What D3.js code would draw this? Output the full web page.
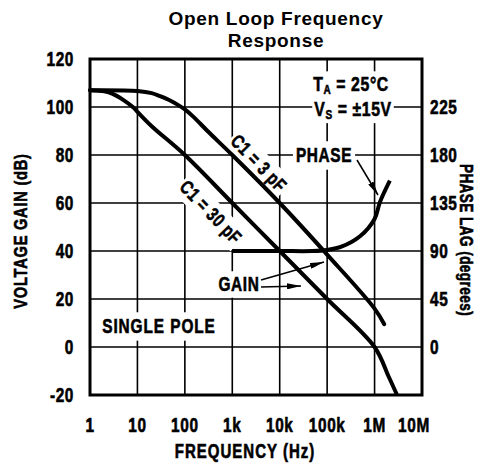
<!DOCTYPE html>
<html>
<head>
<meta charset="utf-8">
<script src="https://cdn.jsdelivr.net/npm/d3@7"></script>
<style>
  body { margin: 0; background: #fff; }
  text { fill: #000; }
</style>
</head>
<body>
<script>
const width = 488;
const height = 463;

// 数据
const decades = [1, 10, 100, 1e3, 1e4, 1e5, 1e6, 1e7];
const decadeLabels = ["1", "10", "100", "1k", "10k", "100k", "1M", "10M"];
const gainTicks = [-20, 0, 20, 40, 60, 80, 100, 120];
const phaseTicks = [0, 45, 90, 135, 180, 225];

// C1 = 3 pF
const freq3pF = [1, 10, 20, 30, 50, 70, 100, 150, 300, 1e3, 1e4, 1e5, 1e6, 1.6e6];
const gain3pF = [107, 106.7, 105.8, 104.5, 102.6, 101, 99, 96, 90, 80, 60, 38.5, 16, 9.5];

// C1 = 30 pF
const freq30pF = [1, 2, 3, 5, 8, 10, 20, 100, 1e3, 1e4, 1e5, 1e6, 2e6, 2.9e6];
const gain30pF = [107, 106.5, 105.5, 103, 100, 98, 92, 80, 60, 40, 20, 0, -12.5, -19.5];

// 相位
const freqPhase = [1e3, 1e4, 5e4, 1e5, 2e5, 5e5, 1e6, 1.3e6, 2.1e6];
const phaseLag = [90, 90, 90, 91, 94, 104, 120, 136, 156];

const FONT = "Liberation Sans, Arial, sans-serif";
const SX = 0.77; // 横向压缩，模拟窄体字

let svg = d3.select("body").append("svg")
    .attr("width", width)
    .attr("height", height);

let x = d3.scaleLog().domain([1, 1e7]).range([90, 422]);
let yGain = d3.scaleLinear().domain([-20, 120]).range([395, 59]);
let yPhase = d3.scaleLinear().domain([-45, 270]).range([395, 59]);

//网格
let grid = svg.append("g");
grid.selectAll(".vg")
    .data(decades.slice(1, -1))
    .enter().append("line")
    .attr("x1", d => x(d)).attr("x2", d => x(d))
    .attr("y1", yGain(120)).attr("y2", yGain(-20))
    .attr("stroke", "#000").attr("stroke-width", 1.6);
grid.selectAll(".hg")
    .data(gainTicks.slice(1, -1))
    .enter().append("line")
    .attr("x1", x(1)).attr("x2", x(1e7))
    .attr("y1", d => yGain(d)).attr("y2", d => yGain(d))
    .attr("stroke", "#000").attr("stroke-width", 1.6);

// 窄体文字
function condText(parent, px, py, opts) {
    let sx = opts.sx || SX;
    let g = parent.append("g")
        .attr("transform", `translate(${px},${py}) rotate(${opts.angle || 0}) scale(${sx},1)`);
    let rect = g.append("rect").attr("fill", "#fff");
    let t = g.append("text")
        .attr("font-family", FONT)
        .attr("font-weight", "bold")
        .attr("stroke", "#000")
        .attr("stroke-width", 0.6)
        .attr("text-anchor", opts.anchor || "middle")
        .attr("dy", opts.dy || 0)
        .attr("font-size", opts.size || 20)
        .attr("letter-spacing", opts.ls == null ? 0.8 : opts.ls);
    if (opts.build) opts.build(t); else t.text(opts.text);
    if (opts.pad != null) {
        let b = t.node().getBBox();
        rect.attr("x", b.x - opts.pad / sx).attr("y", b.y - opts.pad)
            .attr("width", b.width + 2 * opts.pad / sx).attr("height", b.height + opts.pad * 2);
    } else {
        rect.remove();
    }
    return g;
}

// 带白底的标签（遮住网格线）
let labels = svg.append("g");
condText(labels, 351, 84, { size: 20.5, pad: 1, dy: "0.36em", build: t => {
    t.append("tspan").text("T");
    t.append("tspan").attr("font-size", 13).attr("dy", 3).text("A");
    t.append("tspan").attr("dy", -3).text(" = 25°C");
}});
condText(labels, 353, 108.5, { size: 20.5, pad: 2, dy: "0.36em", build: t => {
    t.append("tspan").text("V");
    t.append("tspan").attr("font-size", 13).attr("dy", 3).text("S");
    t.append("tspan").attr("dy", -3).text(" = ±15V");
}});
condText(labels, 324, 155, { pad: 3, dy: "0.36em", text: "PHASE" });
condText(labels, 239, 284, { pad: 2, dy: "0.36em", text: "GAIN" });
condText(labels, 159, 326, { pad: 3, dy: "0.36em", ls: 1.2, text: "SINGLE POLE" });
condText(labels, 259, 163, { size: 19, pad: 2, dy: "0.36em", angle: 46, text: "C1 = 3 pF" });
condText(labels, 211, 212, { size: 19, pad: 2, dy: "0.36em", angle: 46, text: "C1 = 30 pF" });

// 曲线
let line = d3.line().curve(d3.curveCatmullRom.alpha(0.5));
let curves = svg.append("g").attr("fill", "none").attr("stroke", "#000")
    .attr("stroke-width", 4).attr("stroke-linecap", "round");
curves.append("path")
    .attr("d", line(freq3pF.map((f, i) => [x(f), yGain(gain3pF[i])])));
curves.append("path")
    .attr("d", line(freq30pF.map((f, i) => [x(f), yGain(gain30pF[i])])));
curves.append("path")
    .attr("stroke-linecap", "butt")
    .attr("d", line(freqPhase.map((f, i) => [x(f), yPhase(phaseLag[i])])));

// 箭头
let defs = svg.append("defs");
defs.append("marker")
    .attr("id", "arrow")
    .attr("markerUnits", "userSpaceOnUse")
    .attr("viewBox", "0 0 14 6")
    .attr("refX", 14).attr("refY", 3)
    .attr("markerWidth", 14).attr("markerHeight", 6)
    .attr("orient", "auto")
    .append("path").attr("d", "M0,0L14,3L0,6Z").attr("fill", "#000");

let arrows = svg.append("g").attr("stroke", "#000").attr("stroke-width", 1.5);
arrows.append("line")
    .attr("x1", 261).attr("y1", 280).attr("x2", 324).attr("y2", 262)
    .attr("marker-end", "url(#arrow)");
arrows.append("line")
    .attr("x1", 261).attr("y1", 287).attr("x2", 301).attr("y2", 286)
    .attr("marker-end", "url(#arrow)");
arrows.append("line")
    .attr("x1", 357).attr("y1", 160).attr("x2", 378).attr("y2", 195)
    .attr("marker-end", "url(#arrow)");

// 边框
svg.append("rect")
    .attr("x", x(1)).attr("y", yGain(120))
    .attr("width", x(1e7) - x(1)).attr("height", yGain(-20) - yGain(120))
    .attr("fill", "none").attr("stroke", "#000").attr("stroke-width", 3);

// 坐标轴文字
let axisText = svg.append("g");
gainTicks.forEach(d => {
    condText(axisText, 74, yGain(d), { anchor: "end", dy: "0.36em", text: d < 0 ? "-" + Math.abs(d) : String(d) });
});
phaseTicks.forEach(d => {
    condText(axisText, 430, yPhase(d), { anchor: "start", dy: "0.36em", text: String(d) });
});
decades.forEach((d, i) => {
    condText(axisText, Math.min(x(d), 414), 432, { text: decadeLabels[i] });
});

condText(axisText, 245, 458, { size: 19.5, ls: 1.3, text: "FREQUENCY (Hz)" });
condText(axisText, 27, 231, { angle: -90, size: 19, ls: 1, text: "VOLTAGE GAIN (dB)" });
condText(axisText, 460, 240, { angle: 90, size: 18, sx: 0.76, ls: 0.5, text: "PHASE LAG (degrees)" });

// 标题
let title = svg.append("text")
    .attr("text-anchor", "middle")
    .attr("font-family", FONT)
    .attr("font-weight", "bold")
    .attr("letter-spacing", 0.7)
    .attr("font-size", 19);
title.append("tspan").attr("x", 276).attr("y", 25).text("Open Loop Frequency");
title.append("tspan").attr("x", 276).attr("y", 46.5).text("Response");
</script>
</body>
</html>
